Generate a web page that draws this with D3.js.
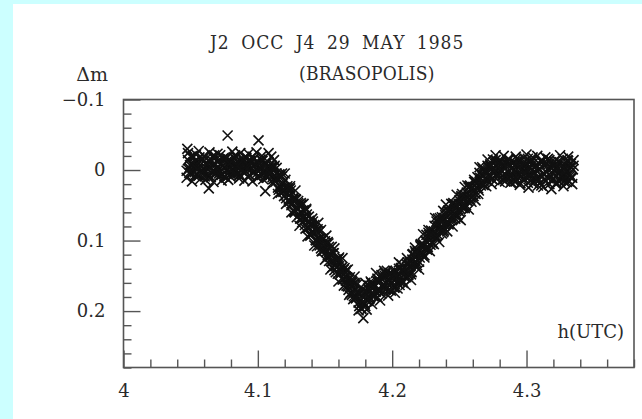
<!DOCTYPE html>
<html><head><meta charset="utf-8">
<script src="https://cdn.jsdelivr.net/npm/d3@7"></script>
<style>
html,body{margin:0;padding:0;background:#ccffff;}
svg{display:block;}
text{font-family:"DejaVu Serif","Liberation Serif",serif;fill:#2a2a2a;}
.cond{font-family:"DejaVu Serif Condensed","DejaVu Serif","Liberation Serif",serif;font-stretch:condensed;}
</style></head>
<body>
<svg id="c" width="642" height="419"></svg>
<script>
const titleLines = ["J2 OCC J4 29 MAY 1985", "(BRASOPOLIS)"];
const yLabel = "\u0394m";
const xLabel = "h(UTC)";
const xTicks = [4.0, 4.1, 4.2, 4.3];
const xTickLabels = ["4", "4.1", "4.2", "4.3"];
const yTicks = [-0.1, 0, 0.1, 0.2];
const yTickLabels = ["\u22120.1", "0", "0.1", "0.2"];

const hoursA = [4.047,4.048,4.049,4.050,4.051,4.052,4.053,4.054,4.055,4.056,4.057,4.058,4.059,4.060,4.061,4.062,4.063,4.064,4.065,4.066,4.067,4.068,4.069,4.070,4.071,4.072,4.073,4.074,4.075,4.076,4.077,4.078,4.079,4.080,4.081,4.082,4.083,4.084,4.085,4.086,4.087,4.088,4.089,4.090,4.091,4.092,4.093,4.094,4.095,4.096,4.097,4.098,4.099,4.100,4.101,4.102,4.103,4.104,4.105,4.106,4.107,4.108,4.109,4.110,
4.111,4.112,4.113,4.114,4.115,4.116,4.117,4.118,4.119,4.120,4.121,4.122,4.123,4.124,4.125,4.126,4.127,4.128,4.129,4.130,4.131,4.132,4.133,4.134,4.135,4.136,4.137,4.138,4.139,4.140,4.141,4.142,4.143,4.144,4.145,4.146,4.147,4.148,4.149,4.150,4.151,4.152,4.153,4.154,4.155,4.156,4.157,4.158,4.159,4.160,4.161,4.162,4.163,4.164,4.165,4.166,4.167,4.168,4.169,4.170,4.171,4.172,4.173,4.174,4.175,4.176,4.177,4.178,
4.179,4.180,4.181,4.182,4.183,4.184,4.185,4.186,4.187,4.188,4.189,4.190,4.191,4.192,4.193,4.194,4.195,4.196,4.197,4.198,4.199,4.200,4.201,4.202,4.203,4.204,4.205,4.206,4.207,4.208,4.209,4.210,
4.211,4.212,4.213,4.214,4.215,4.216,4.217,4.218,4.219,4.220,4.221,4.222,4.223,4.224,4.225,4.226,4.227,4.228,4.229,4.230,4.231,4.232,4.233,4.234,4.235,4.236,4.237,4.238,4.239,4.240,4.241,4.242,4.243,4.244,4.245,4.246,4.247,4.248,4.249,4.250,4.251,4.252,4.253,4.254,4.255,4.256,4.257,4.258,4.259,4.260,4.261,4.262,4.263,4.264,4.265,4.266,4.267,4.268,4.269,4.270,4.271,4.272,4.273,4.274,4.275,4.276,4.277,4.278,4.279,4.280,
4.281,4.282,4.283,4.284,4.285,4.286,4.287,4.288,4.289,4.290,4.291,4.292,4.293,4.294,4.295,4.296,4.297,4.298,4.299,4.300,4.301,4.302,4.303,4.304,4.305,4.306,4.307,4.308,4.309,4.310,4.311,4.312,4.313,4.314,4.315,4.316,4.317,4.318,4.319,4.320,4.321,4.322,4.323,4.324,4.325,4.326,4.327,4.328,4.329,4.330,4.331,4.332,4.333,4.334,4.335];

const dmA = [0.001,-0.014,-0.003,0.006,-0.009,-0.018,0.003,-0.005,-0.012,0.008,-0.007,0.000,-0.016,0.004,-0.010,-0.002,0.010,-0.013,-0.004,-0.019,0.002,-0.008,0.005,-0.011,-0.001,-0.015,0.007,-0.006,-0.003,-0.017,0.001,-0.014,-0.003,0.006,-0.009,-0.018,0.003,-0.005,-0.012,0.008,-0.007,0.000,-0.016,0.004,-0.010,-0.002,0.010,-0.013,-0.004,-0.019,0.002,-0.008,0.005,-0.011,-0.001,-0.015,0.007,-0.006,0.004,-0.010,0.009,-0.004,0.006,-0.003,
0.010,-0.004,0.011,0.005,0.025,0.006,0.023,0.009,0.031,0.025,0.040,0.026,0.036,0.026,0.050,0.040,0.059,0.041,0.055,0.044,0.063,0.059,0.074,0.057,0.070,0.057,0.082,0.072,0.091,0.079,0.090,0.078,0.099,0.087,0.098,0.087,0.111,0.100,0.114,0.101,0.116,0.102,0.129,0.119,0.129,0.118,0.142,0.127,0.137,0.126,0.148,0.140,0.155,0.141,0.152,0.142,0.165,0.155,0.174,0.157,0.172,0.160,0.180,0.173,0.188,0.175,0.197,0.187,
0.175,0.193,0.176,0.185,0.164,0.176,0.164,0.179,0.165,0.172,0.154,0.172,0.158,0.175,0.152,0.163,0.147,0.168,0.155,0.164,0.147,0.160,0.149,0.166,0.153,0.160,0.140,0.154,0.142,0.159,0.144,0.151,
0.134,0.149,0.136,0.148,0.127,0.133,0.115,0.131,0.121,0.130,0.108,0.118,0.105,0.121,0.101,0.110,0.089,0.100,0.086,0.103,0.087,0.093,0.073,0.092,0.076,0.080,0.067,0.088,0.070,0.076,0.061,0.077,0.061,0.070,0.049,0.062,0.051,0.066,0.052,0.059,0.039,0.051,0.038,0.054,0.037,0.044,0.025,0.042,0.026,0.031,0.017,0.034,0.019,0.026,0.004,0.019,0.006,0.021,0.004,0.014,-0.006,0.006,-0.006,0.012,-0.003,0.004,-0.014,0.006,-0.009,-0.002,
-0.012,0.008,-0.005,0.013,-0.009,0.002,-0.015,0.010,-0.003,0.006,-0.011,0.016,-0.006,0.001,-0.013,0.009,-0.002,0.012,-0.008,0.004,-0.016,0.007,-0.004,0.014,-0.010,0.003,-0.007,0.011,-0.001,0.018,-0.012,0.005,-0.006,0.015,-0.009,0.000,-0.014,0.008,-0.003,0.012,-0.008,0.020,-0.005,0.006,-0.011,0.010,-0.002,0.016,-0.007,0.003,-0.013,0.009,-0.004,0.011,-0.006];

const hoursB = [4.0475,4.0485,4.0495,4.0505,4.0515,4.0525,4.0535,4.0545,4.0555,4.0565,4.0575,4.0585,4.0595,4.0605,4.0615,4.0625,4.0635,4.0645,4.0655,4.0665,4.0675,4.0685,4.0695,4.0705,4.0715,4.0725,4.0735,4.0745,4.0755,4.0765,4.0775,4.0785,4.0795,4.0805,4.0815,4.0825,4.0835,4.0845,4.0855,4.0865,4.0875,4.0885,4.0895,4.0905,4.0915,4.0925,4.0935,4.0945,4.0955,4.0965,4.0975,4.0985,4.0995,4.1005,4.1015,4.1025,4.1035,4.1045,4.1055,4.1065,4.1075,4.1085,4.1095,
4.1105,4.1115,4.1125,4.1135,4.1145,4.1155,4.1165,4.1175,4.1185,4.1195,4.1205,4.1215,4.1225,4.1235,4.1245,4.1255,4.1265,4.1275,4.1285,4.1295,4.1305,4.1315,4.1325,4.1335,4.1345,4.1355,4.1365,4.1375,4.1385,4.1395,4.1405,4.1415,4.1425,4.1435,4.1445,4.1455,4.1465,4.1475,4.1485,4.1495,4.1505,4.1515,4.1525,4.1535,4.1545,4.1555,4.1565,4.1575,4.1585,4.1595,4.1605,4.1615,4.1625,4.1635,4.1645,4.1655,4.1665,4.1675,4.1685,4.1695,4.1705,4.1715,4.1725,4.1735,4.1745,4.1755,4.1765,4.1775,
4.1785,4.1795,4.1805,4.1815,4.1825,4.1835,4.1845,4.1855,4.1865,4.1875,4.1885,4.1895,4.1905,4.1915,4.1925,4.1935,4.1945,4.1955,4.1965,4.1975,4.1985,4.1995,4.2005,4.2015,4.2025,4.2035,4.2045,4.2055,4.2065,4.2075,4.2085,4.2095,
4.2105,4.2115,4.2125,4.2135,4.2145,4.2155,4.2165,4.2175,4.2185,4.2195,4.2205,4.2215,4.2225,4.2235,4.2245,4.2255,4.2265,4.2275,4.2285,4.2295,4.2305,4.2315,4.2325,4.2335,4.2345,4.2355,4.2365,4.2375,4.2385,4.2395,4.2405,4.2415,4.2425,4.2435,4.2445,4.2455,4.2465,4.2475,4.2485,4.2495,4.2505,4.2515,4.2525,4.2535,4.2545,4.2555,4.2565,4.2575,4.2585,4.2595,4.2605,4.2615,4.2625,4.2635,4.2645,4.2655,4.2665,4.2675,4.2685,4.2695,4.2705,4.2715,4.2725,4.2735,4.2745,4.2755,4.2765,4.2775,4.2785,4.2795,
4.2805,4.2815,4.2825,4.2835,4.2845,4.2855,4.2865,4.2875,4.2885,4.2895,4.2905,4.2915,4.2925,4.2935,4.2945,4.2955,4.2965,4.2975,4.2985,4.2995,4.3005,4.3015,4.3025,4.3035,4.3045,4.3055,4.3065,4.3075,4.3085,4.3095,4.3105,4.3115,4.3125,4.3135,4.3145,4.3155,4.3165,4.3175,4.3185,4.3195,4.3205,4.3215,4.3225,4.3235,4.3245,4.3255,4.3265,4.3275,4.3285,4.3295,4.3305,4.3315,4.3325,4.3335,4.3345];

const dmB = [-0.030,-0.001,-0.007,0.004,-0.020,-0.004,-0.012,0.007,-0.009,-0.018,0.001,-0.014,-0.002,0.009,-0.016,-0.006,0.026,-0.011,0.003,-0.008,-0.021,0.005,-0.003,-0.013,0.008,-0.009,0.000,-0.017,-0.005,0.011,-0.049,-0.007,0.002,-0.012,0.006,-0.003,-0.019,-0.008,0.004,-0.014,0.009,-0.006,-0.011,0.001,-0.017,-0.004,0.007,-0.010,-0.002,-0.015,0.003,-0.008,0.010,-0.042,-0.005,0.006,-0.013,0.001,0.030,-0.009,0.004,-0.006,0.002,
-0.006,0.013,-0.006,0.013,0.011,0.028,0.008,0.026,0.019,0.037,0.014,0.033,0.028,0.045,0.029,0.047,0.042,0.060,0.042,0.054,0.049,0.069,0.049,0.068,0.066,0.083,0.063,0.081,0.074,0.092,0.069,0.088,0.083,0.100,0.084,0.102,0.097,0.115,0.097,0.109,0.104,0.124,0.104,0.123,0.121,0.138,0.118,0.136,0.129,0.147,0.124,0.143,0.138,0.155,0.139,0.157,0.152,0.170,0.152,0.164,0.159,0.179,0.162,0.180,0.176,0.193,0.173,0.188,
0.210,0.190,0.172,0.186,0.169,0.181,0.160,0.177,0.162,0.173,0.157,0.169,0.151,0.171,0.155,0.166,0.150,0.165,0.149,0.170,0.146,0.161,0.152,0.167,0.143,0.158,0.147,0.163,0.139,0.157,0.141,0.152,
0.152,0.131,0.144,0.131,0.145,0.119,0.131,0.118,0.135,0.117,0.124,0.105,0.121,0.107,0.111,0.092,0.109,0.092,0.106,0.090,0.093,0.079,0.096,0.079,0.084,0.068,0.085,0.072,0.086,0.064,0.074,0.058,0.075,0.062,0.068,0.047,0.061,0.049,0.064,0.048,0.055,0.037,0.054,0.042,0.052,0.032,0.040,0.023,0.039,0.026,0.037,0.017,0.025,0.010,0.029,0.011,0.017,-0.002,0.017,0.004,0.015,-0.005,0.007,-0.005,0.013,-0.011,0.002,-0.005,0.006,-0.012,
0.005,-0.009,0.014,-0.003,0.008,-0.014,0.003,-0.007,0.017,-0.010,0.001,0.011,-0.016,0.006,-0.004,0.019,-0.008,0.002,-0.012,0.010,-0.002,0.025,-0.011,0.007,-0.018,0.004,0.013,-0.006,0.022,-0.001,-0.013,0.009,0.024,-0.008,0.003,-0.015,0.012,-0.004,0.027,-0.010,0.006,-0.002,0.018,-0.012,0.001,0.014,-0.007,0.023,-0.003,0.008,-0.014,0.016,-0.005,0.010,-0.001];

// a third exposure set, sampled at the same instants as set A
const hoursC = hoursA;
const dmC = [0.011,-0.024,0.004,-0.019,0.016,-0.011,0.008,-0.022,-0.001,-0.027,0.013,-0.015,0.002,-0.020,0.014,-0.008,0.007,-0.025,0.010,-0.013,0.017,-0.018,0.000,-0.023,0.005,-0.021,0.015,-0.016,0.009,-0.010,-0.017,0.014,-0.009,0.010,-0.026,0.003,-0.021,0.006,-0.006,0.012,-0.024,0.001,-0.014,0.015,-0.019,-0.002,-0.023,0.008,-0.012,0.016,-0.016,-0.003,-0.025,0.011,-0.010,0.005,-0.020,0.013,-0.007,0.007,0.011,-0.024,0.004,-0.019,
0.018,-0.014,0.017,-0.003,0.034,0.010,0.032,0.005,0.028,0.005,0.048,0.023,0.042,0.023,0.060,0.041,0.058,0.029,0.067,0.047,0.079,0.047,0.068,0.048,0.078,0.055,0.094,0.066,0.093,0.077,0.073,0.107,0.086,0.108,0.075,0.107,0.085,0.115,0.106,0.127,0.093,0.121,0.109,0.141,0.109,0.129,0.111,0.145,0.127,0.158,0.129,0.145,0.125,0.164,0.146,0.164,0.141,0.177,0.160,0.177,0.183,0.151,0.182,0.162,0.199,0.175,0.196,0.168,
0.188,0.160,0.198,0.168,0.183,0.158,0.190,0.166,0.179,0.146,0.180,0.156,0.185,0.149,0.166,0.143,0.170,0.143,0.178,0.147,0.171,0.151,0.143,0.174,0.150,0.168,0.131,0.159,0.134,0.160,0.147,0.163,
0.125,0.147,0.130,0.156,0.120,0.134,0.110,0.138,0.115,0.141,0.106,0.116,0.091,0.124,0.100,0.113,0.085,0.115,0.092,0.104,0.105,0.068,0.094,0.069,0.102,0.073,0.090,0.058,0.077,0.049,0.087,0.057,0.072,0.048,0.080,0.056,0.069,0.035,0.068,0.043,0.071,0.034,0.050,0.024,0.050,0.022,0.056,0.022,0.045,0.024,0.014,0.043,0.017,0.034,-0.004,0.022,-0.004,0.021,0.007,0.023,-0.015,0.009,-0.008,0.020,-0.015,0.001,-0.021,0.010,-0.011,0.017,
-0.011,0.002,-0.020,0.016,-0.005,0.010,-0.015,0.018,-0.002,0.012,0.016,-0.019,0.009,-0.014,0.021,-0.006,0.013,-0.017,0.004,-0.022,0.018,-0.010,0.007,-0.015,0.019,-0.003,0.012,-0.020,0.015,-0.008,0.022,-0.013,0.005,-0.018,0.010,-0.016,0.020,-0.011,0.014,-0.005,-0.012,0.019,-0.004,0.015,-0.021,0.008,-0.016,0.011,-0.001,0.017,-0.019,0.006,-0.009,0.020,-0.014];

const svg = d3.select("#c");
svg.append("rect").attr("x", 13).attr("y", 4).attr("width", 629).attr("height", 415).attr("fill", "#ffffff");

const x = d3.scaleLinear().domain([4.0, 4.38]).range([123.5, 634]);
const y = d3.scaleLinear().domain([-0.1, 0.28]).range([99.5, 367.5]);

const fs = 18;
const yMinor = d3.range(-0.08, 0.2801, 0.02).filter(v => yTicks.every(t => Math.abs(t - v) > 1e-6));
const xMinor = d3.range(4.02, 4.3801, 0.02).filter(v => xTicks.every(t => Math.abs(t - v) > 1e-6));

const gy = svg.append("g").attr("transform", `translate(${x.range()[0]},0)`);
gy.call(d3.axisLeft(y).tickValues(yMinor).tickSize(-8).tickFormat(""));
const gy2 = svg.append("g").attr("transform", `translate(${x.range()[0]},0)`);
gy2.call(d3.axisLeft(y).tickValues(yTicks).tickSize(-17).tickPadding(18)
  .tickFormat((d, i) => yTickLabels[i]));

const gx = svg.append("g").attr("transform", `translate(0,${y.range()[1]})`);
gx.call(d3.axisBottom(x).tickValues(xMinor).tickSize(-8).tickFormat(""));
const gx2 = svg.append("g").attr("transform", `translate(0,${y.range()[1]})`);
gx2.call(d3.axisBottom(x).tickValues(xTicks).tickSize(-17).tickPadding(17)
  .tickFormat((d, i) => xTickLabels[i]));

svg.selectAll(".domain").remove();
svg.selectAll(".tick line").attr("stroke", "#555").attr("stroke-width", 1.4);
svg.selectAll(".tick text").attr("font-family", "DejaVu Serif, Liberation Serif, serif")
  .attr("font-size", fs).attr("fill", "#2a2a2a");

svg.append("rect")
  .attr("x", x.range()[0]).attr("y", y.range()[0])
  .attr("width", x.range()[1] - x.range()[0]).attr("height", y.range()[1] - y.range()[0])
  .attr("fill", "none").attr("stroke", "#555").attr("stroke-width", 1.6);

const pts = hoursA.map((h, i) => [h, dmA[i]])
  .concat(hoursB.map((h, i) => [h, dmB[i]]))
  .concat(hoursC.map((h, i) => [h, dmC[i]]));
const s = 5;
svg.append("g").selectAll("path").data(pts).join("path")
  .attr("d", d => {
    const px = x(d[0]), py = y(d[1]);
    return `M${px - s},${py - s}L${px + s},${py + s}M${px - s},${py + s}L${px + s},${py - s}`;
  })
  .attr("stroke", "#111").attr("stroke-width", 1.6).attr("fill", "none");

svg.append("text").attr("class", "cond").attr("x", 210).attr("y", 49).attr("font-size", 19)
  .attr("letter-spacing", 1).attr("word-spacing", 5).text(titleLines[0]);
svg.append("text").attr("class", "cond").attr("x", 299).attr("y", 80).attr("font-size", 19)
  .attr("letter-spacing", 0.3).text(titleLines[1]);
svg.append("text").attr("x", 108).attr("y", 81).attr("font-size", 19)
  .attr("text-anchor", "end").text(yLabel);
svg.append("text").attr("x", 624).attr("y", 338).attr("font-size", 18)
  .attr("text-anchor", "end").text(xLabel);
</script>
</body></html>
